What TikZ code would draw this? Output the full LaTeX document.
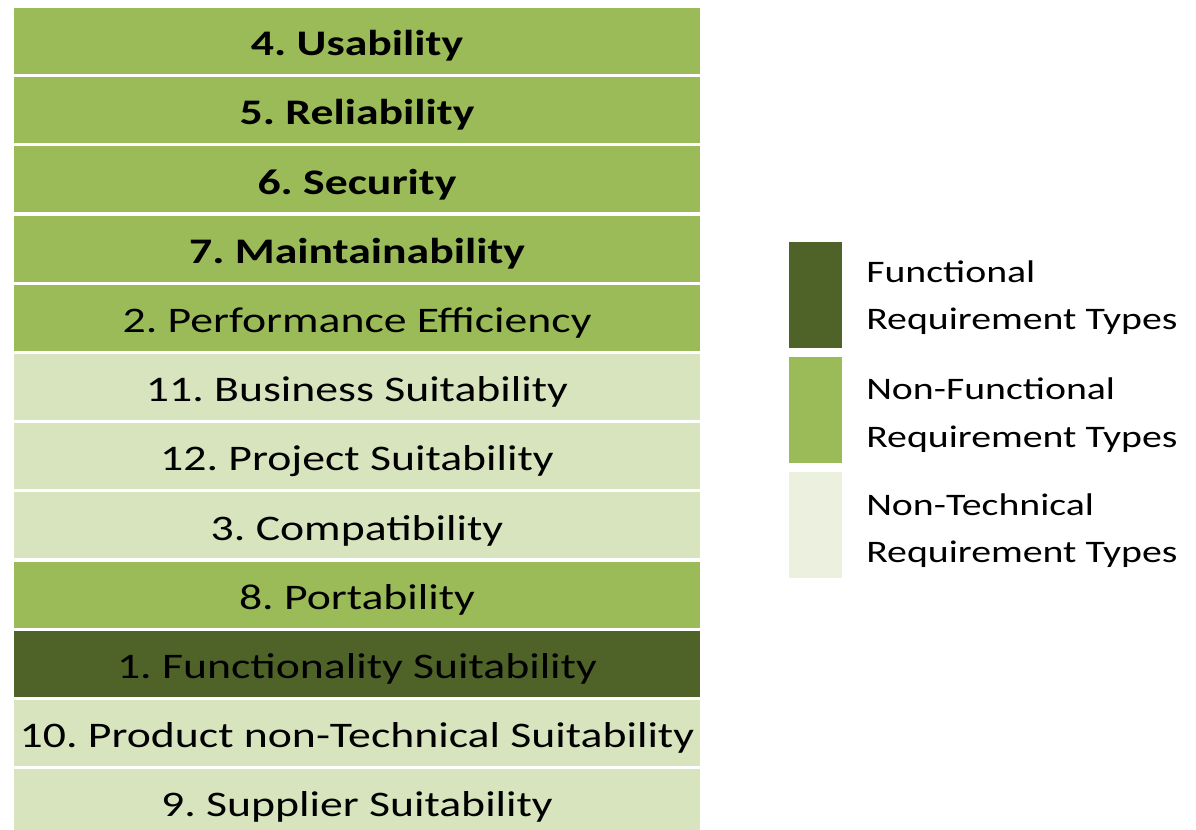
\documentclass[tikz,border=0pt]{standalone}
\usepackage{fontspec}
\setmainfont[FakeStretch=1.27]{Carlito}
\definecolor{gmid}{HTML}{9BBB59}
\definecolor{gdark}{HTML}{4F6228}
\definecolor{glight}{HTML}{D7E4BD}
\definecolor{gpale}{HTML}{EBF1DE}
\begin{document}
\frenchspacing
\begin{tikzpicture}[x=0.75pt,y=-0.75pt,
  rowbox/.style={draw=none,inner sep=0pt,minimum width=514.5pt,minimum height=49.5pt,
    text height=25pt,text depth=3pt,
    font=\fontsize{27}{30}\selectfont,text=black},
  nf/.style={rowbox,fill=gmid},
  nfb/.style={rowbox,fill=gmid,font=\fontsize{27}{30}\selectfont\bfseries},
  nt/.style={rowbox,fill=glight},
  fn/.style={rowbox,fill=gdark},
  legbox/.style={draw=none,inner sep=0pt,minimum width=39.75pt,minimum height=79.5pt},
  legtext/.style={anchor=base west,inner sep=0pt,font=\fontsize{23.5}{28}\selectfont}]
\useasboundingbox (0,0) rectangle (1196,830);
\clip (0,0) rectangle (1196,830);
\node[nfb] (r4) at (357,41.0) {4. Usability};
\node[nfb] (r5) at (357,110.2) {5. Reliability};
\node[nfb] (r6) at (357,179.4) {6. Security};
\node[nfb] (r7) at (357,248.6) {7. Maintainability};
\node[nf] (r2) at (357,317.8) {2. Performance Efficiency};
\node[nt] (r11) at (357,387.0) {11. Business Suitability};
\node[nt] (r12) at (357,456.2) {12. Project Suitability};
\node[nt] (r3) at (357,525.4) {3. Compatibility};
\node[nf] (r8) at (357,594.6) {8. Portability};
\node[fn] (r1) at (357,663.8) {1. Functionality Suitability};
\node[nt] (r10) at (357,733.0) {10. Product non-Technical Suitability};
\node[nt] (r9) at (357,802.2) {9. Supplier Suitability};
% legend
\node[legbox,fill=gdark] (l1) at (815.5,295) {};
\node[legbox,fill=gmid] (l2) at (815.5,410) {};
\node[legbox,fill=gpale] (l3) at (815.5,525) {};
\node[legtext] (t1a) at (866,283) {Functional};
\node[legtext] (t1b) at (866,330) {Requirement Types};
\node[legtext] (t2a) at (866,400) {Non-Functional};
\node[legtext] (t2b) at (866,448) {Requirement Types};
\node[legtext] (t3a) at (866,515) {Non-Technical};
\node[legtext] (t3b) at (866,562) {Requirement Types};
\end{tikzpicture}
\end{document}
